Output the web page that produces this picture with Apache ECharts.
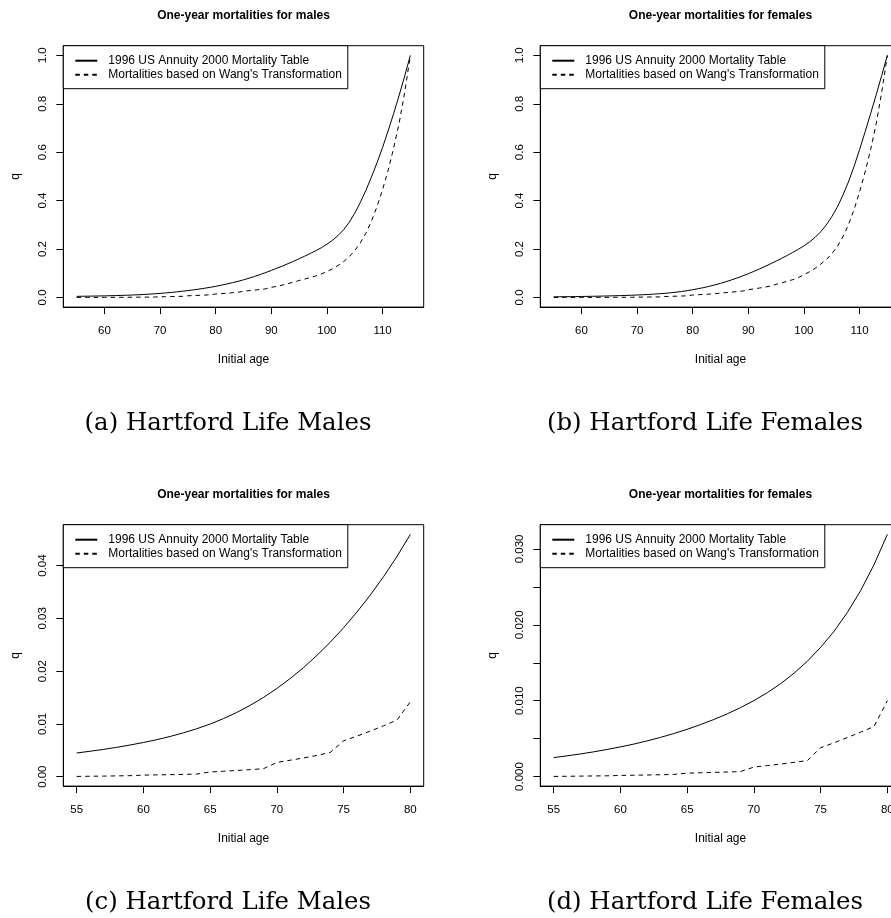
<!DOCTYPE html>
<html><head><meta charset="utf-8">
<script src="https://cdn.jsdelivr.net/npm/echarts@6/dist/echarts.min.js"></script>
<style>html,body{margin:0;padding:0;background:#fff}#c{width:891px;height:918px}</style>
</head><body><div id="c"></div>
<script>
// ---------------- data ----------------
const ages = [55,56,57,58,59,60,61,62,63,64,65,66,67,68,69,70,71,72,73,74,75,76,77,78,79,80,
  81,82,83,84,85,86,87,88,89,90,91,92,93,94,95,96,97,98,99,100,101,102,103,104,105,106,107,108,109,110,111,112,113,114,115];

const maleTable = [0.00449,0.00482,0.00517,0.00556,0.00600,0.00648,0.00701,0.00762,0.00831,0.00909,
  0.00998,0.01101,0.01218,0.01352,0.01503,0.01673,0.01861,0.02069,0.02299,0.02550,
  0.02824,0.03121,0.03443,0.03794,0.04176,0.04593,
  0.0506,0.0555,0.0608,0.0665,0.0727,0.0795,0.0867,0.0945,0.1028,0.1115,0.1205,0.1298,0.1395,0.1495,
  0.1598,0.1705,0.1815,0.1930,0.2055,0.2200,0.2360,0.2560,0.2800,0.3100,0.3480,0.3920,0.4420,0.4970,
  0.5560,0.6190,0.6880,0.7600,0.8360,0.9160,1.0000];

const maleWang = [0.00005,0.00008,0.00011,0.00015,0.00019,0.00030,0.00034,0.00038,0.00043,0.00050,
  0.00090,0.00103,0.00118,0.00133,0.00152,0.00270,0.00312,0.00355,0.00403,0.00460,
  0.00680,0.00770,0.00865,0.00965,0.01075,0.01420,
  0.0158,0.0175,0.0193,0.0212,0.0255,0.0278,0.0302,0.0328,0.0356,0.0415,0.0460,0.0510,0.0570,0.0630,
  0.0700,0.0760,0.0820,0.0890,0.0970,0.1070,0.1180,0.1320,0.1480,0.1680,0.1930,0.2250,0.2650,0.3150,
  0.3750,0.4450,0.5250,0.6170,0.7220,0.8500,1.0000];

const femaleTable = [0.00250,0.00273,0.00298,0.00326,0.00357,0.00391,0.00428,0.00470,0.00516,0.00567,
  0.00623,0.00685,0.00752,0.00826,0.00909,0.01001,0.01105,0.01224,0.01361,0.01519,
  0.01703,0.01913,0.02161,0.02451,0.02792,0.03192,
  0.0362,0.0408,0.0460,0.0518,0.0580,0.0650,0.0725,0.0805,0.0890,0.0980,0.1075,0.1175,0.1280,0.1390,
  0.1500,0.1615,0.1735,0.1860,0.1990,0.2130,0.2290,0.2480,0.2710,0.2990,0.3330,0.3730,0.4220,0.4770,
  0.5400,0.6100,0.6840,0.7600,0.8380,0.9180,1.0000];

const femaleWang = [0.00002,0.00004,0.00006,0.00008,0.00010,0.00015,0.00018,0.00021,0.00024,0.00028,
  0.00045,0.00050,0.00055,0.00060,0.00066,0.00125,0.00145,0.00165,0.00187,0.00210,
  0.00380,0.00445,0.00515,0.00585,0.00660,0.01000,
  0.0112,0.0125,0.0139,0.0154,0.0180,0.0198,0.0218,0.0240,0.0263,0.0320,0.0352,0.0388,0.0428,0.0470,
  0.0540,0.0600,0.0665,0.0735,0.0820,0.0940,0.1060,0.1200,0.1370,0.1560,0.1800,0.2100,0.2500,0.3000,
  0.3620,0.4350,0.5180,0.6120,0.7180,0.8500,1.0000];

const seriesNames = ['1996 US Annuity 2000 Mortality Table', "Mortalities based on Wang's Transformation"];
const panelTitles = ['One-year mortalities for males','One-year mortalities for females',
                     'One-year mortalities for males','One-year mortalities for females'];
const captions = ['(a) Hartford Life Males','(b) Hartford Life Females','(c) Hartford Life Males','(d) Hartford Life Females'];
const xAxisName = 'Initial age';
const yAxisName = 'q';

const xTicksFull = [60,70,80,90,100,110];
const xTicksZoom = [55,60,65,70,75,80];
const yTicksFull = [0,0.2,0.4,0.6,0.8,1.0];
const yTicksMaleZoom = [0,0.01,0.02,0.03,0.04];
const yLabelsFemaleZoom = [0,0.01,0.02,0.03];
const yTicksFemaleZoom = [0,0.005,0.01,0.015,0.02,0.025,0.03];
const zoomLastAge = 80;

// ---------------- layout ----------------
const SANS = '"Liberation Sans", Arial, Helvetica, sans-serif';
const PW = 360.4, PH = 261.4;
const nZoom = ages.indexOf(zoomLastAge) + 1;
const panels = [
  {left:63.3,  top:45.7,  x:ages, a:maleTable, b:maleWang, xt:xTicksFull, yt:yTicksFull, yl:yTicksFull, dig:1},
  {left:540.3, top:45.7,  x:ages, a:femaleTable, b:femaleWang, xt:xTicksFull, yt:yTicksFull, yl:yTicksFull, dig:1},
  {left:63.3,  top:524.7, x:ages.slice(0,nZoom), a:maleTable.slice(0,nZoom), b:maleWang.slice(0,nZoom), xt:xTicksZoom, yt:yTicksMaleZoom, yl:yTicksMaleZoom, dig:2},
  {left:540.3, top:524.7, x:ages.slice(0,nZoom), a:femaleTable.slice(0,nZoom), b:femaleWang.slice(0,nZoom), xt:xTicksZoom, yt:yTicksFemaleZoom, yl:yLabelsFemaleZoom, dig:3}
];
function ext(vals){ const lo=Math.min(...vals), hi=Math.max(...vals), d=(hi-lo)*0.04; return [lo-d, hi+d]; }

const grid=[], xAxis=[], yAxis=[], series=[], legend=[], graphic=[];
panels.forEach((p,i)=>{
  grid.push({left:p.left, top:p.top, width:PW, height:PH, show:true, borderColor:'#000', borderWidth:1,
    containLabel:false, outerBoundsMode:'none'});
  const xr = ext(p.x), yr = ext(p.a.concat(p.b));
  xAxis.push({type:'value', gridIndex:i, min:xr[0], max:xr[1], position:'bottom',
    axisLine:{show:true, onZero:false, lineStyle:{color:'#000', width:1}},
    axisTick:{show:true, length:7, customValues:p.xt, lineStyle:{color:'#000', width:1}},
    axisLabel:{customValues:p.xt, margin:17.5, color:'#000', fontSize:11.5, fontFamily:SANS},
    splitLine:{show:false},
    name:xAxisName, nameLocation:'middle', nameGap:47, nameTextStyle:{color:'#000', fontSize:12, fontFamily:SANS}});
  yAxis.push({type:'value', gridIndex:i, min:yr[0], max:yr[1], position:'left',
    axisLine:{show:true, onZero:false, lineStyle:{color:'#000', width:1}},
    axisTick:{show:true, length:7, customValues:p.yt, lineStyle:{color:'#000', width:1}},
    axisLabel:{customValues:p.yl, margin:14, rotate:90, color:'#000', fontSize:11.5, fontFamily:SANS,
      formatter:(v)=>Number(v).toFixed(p.dig)},
    splitLine:{show:false},
    name:yAxisName, nameLocation:'middle', nameGap:42, nameRotate:90, nameTextStyle:{color:'#000', fontSize:12, fontFamily:SANS}});
  series.push({type:'line', name:seriesNames[0], xAxisIndex:i, yAxisIndex:i, symbol:'none', showSymbol:false, silent:true,
    data:p.x.map((a,k)=>[a,p.a[k]]), lineStyle:{color:'#000', width:1, type:'solid'}, itemStyle:{color:'#000'}});
  series.push({type:'line', name:seriesNames[1], xAxisIndex:i, yAxisIndex:i, symbol:'none', showSymbol:false, silent:true,
    data:p.x.map((a,k)=>[a,p.b[k]]), lineStyle:{color:'#000', width:1, type:[4.5,4]}, itemStyle:{color:'#000'}});
  legend.push({left:p.left, top:p.top, orient:'vertical', data:seriesNames, selectedMode:false,
    padding:[8,6,7,11], itemGap:0, itemWidth:22, itemHeight:14,
    itemStyle:{opacity:0}, lineStyle:{opacity:1},
    borderColor:'#000', borderWidth:1, borderRadius:0, backgroundColor:'#fff',
    textStyle:{fontSize:12, fontFamily:SANS, color:'#000', lineHeight:14, padding:[0,0,0,6]}});
  const cx = p.left + PW/2;
  graphic.push({type:'text', x:cx, y:p.top-29.7, style:{text:panelTitles[i], font:'bold 12px '+SANS, fill:'#000', textAlign:'center', textVerticalAlign:'middle'}});
  graphic.push({type:'text', x:cx-15.5, y:p.top+PH+116.5,
    style:{text:captions[i], font:'24.4px "DejaVu Serif", serif', fill:'#000', textAlign:'center', textVerticalAlign:'middle'}});
});

const chart = echarts.init(document.getElementById('c'), null, {renderer:'canvas'});
chart.setOption({backgroundColor:'#fff', animation:false, grid, xAxis, yAxis, series, legend, graphic});
</script></body></html>
